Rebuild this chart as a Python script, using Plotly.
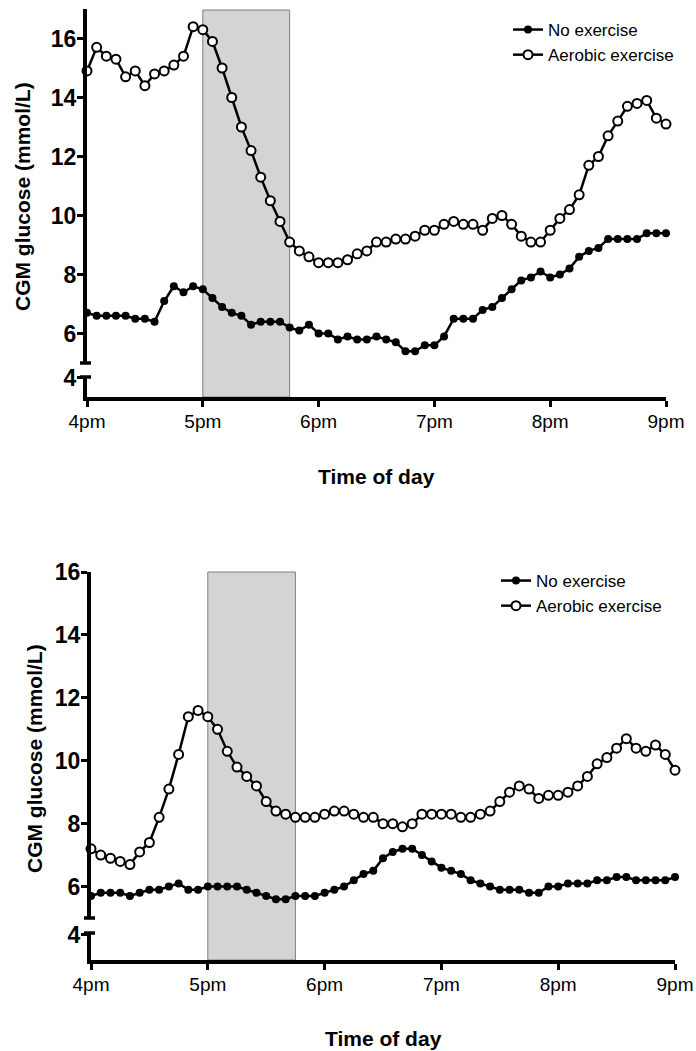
import plotly.graph_objects as go

# ---------------- data ----------------
minutes = [i * 5 for i in range(61)]  # 4pm .. 9pm, 5-min CGM samples
tick_vals = [0, 60, 120, 180, 240, 300]
tick_text = ["4pm", "5pm", "6pm", "7pm", "8pm", "9pm"]
exercise_window = [60, 105]  # 5:00pm - 5:45pm

top_no_exercise = [6.7, 6.6, 6.6, 6.6, 6.6, 6.5, 6.5, 6.4, 7.1, 7.6,
                   7.4, 7.6, 7.5, 7.2, 6.9, 6.7, 6.6, 6.3, 6.4, 6.4,
                   6.4, 6.2, 6.1, 6.3, 6.0, 6.0, 5.8, 5.9, 5.8, 5.8,
                   5.9, 5.8, 5.7, 5.4, 5.4, 5.6, 5.6, 5.9, 6.5, 6.5,
                   6.5, 6.8, 6.9, 7.2, 7.5, 7.8, 7.9, 8.1, 7.9, 8.0,
                   8.2, 8.6, 8.8, 8.9, 9.2, 9.2, 9.2, 9.2, 9.4, 9.4, 9.4]
top_aerobic = [14.9, 15.7, 15.4, 15.3, 14.7, 14.9, 14.4, 14.8, 14.9, 15.1,
               15.4, 16.4, 16.3, 15.9, 15.0, 14.0, 13.0, 12.2, 11.3, 10.5,
               9.8, 9.1, 8.8, 8.6, 8.4, 8.4, 8.4, 8.5, 8.7, 8.8,
               9.1, 9.1, 9.2, 9.2, 9.3, 9.5, 9.5, 9.7, 9.8, 9.7,
               9.7, 9.5, 9.9, 10.0, 9.7, 9.3, 9.1, 9.1, 9.5, 9.9,
               10.2, 10.7, 11.7, 12.0, 12.7, 13.2, 13.7, 13.8, 13.9, 13.3, 13.1]
bot_no_exercise = [5.7, 5.8, 5.8, 5.8, 5.7, 5.8, 5.9, 5.9, 6.0, 6.1,
                   5.9, 5.9, 6.0, 6.0, 6.0, 6.0, 5.9, 5.8, 5.7, 5.6,
                   5.6, 5.7, 5.7, 5.7, 5.8, 5.9, 6.0, 6.2, 6.4, 6.5,
                   6.9, 7.1, 7.2, 7.2, 7.0, 6.8, 6.6, 6.5, 6.4, 6.2,
                   6.1, 6.0, 5.9, 5.9, 5.9, 5.8, 5.8, 6.0, 6.0, 6.1,
                   6.1, 6.1, 6.2, 6.2, 6.3, 6.3, 6.2, 6.2, 6.2, 6.2, 6.3]
bot_aerobic = [7.2, 7.0, 6.9, 6.8, 6.7, 7.1, 7.4, 8.2, 9.1, 10.2,
               11.4, 11.6, 11.4, 11.0, 10.3, 9.8, 9.5, 9.2, 8.7, 8.4,
               8.3, 8.2, 8.2, 8.2, 8.3, 8.4, 8.4, 8.3, 8.2, 8.2,
               8.0, 8.0, 7.9, 8.0, 8.3, 8.3, 8.3, 8.3, 8.2, 8.2,
               8.3, 8.4, 8.7, 9.0, 9.2, 9.1, 8.8, 8.9, 8.9, 9.0,
               9.2, 9.5, 9.9, 10.1, 10.4, 10.7, 10.4, 10.3, 10.5, 10.2, 9.7]
series_names = ["No exercise", "Aerobic exercise"]
y_title = "CGM glucose (mmol/L)"
x_title = "Time of day"

# ---------------- layout helpers ----------------
W, H = 696, 1051
FONT = "Liberation Sans, Arial, sans-serif"


def px(p):
    return p / W


def py(p):
    return 1 - p / H


fig = go.Figure()

panels = [
    dict(x="x", y="y", ylow="y3", leg="legend", no=top_no_exercise, aer=top_aerobic),
    dict(x="x2", y="y2", ylow="y4", leg="legend2", no=bot_no_exercise, aer=bot_aerobic),
]
for p in panels:
    # empty trace so that the lower (broken) axis segment forms a subplot
    fig.add_trace(go.Scatter(x=[None], y=[None], xaxis=p["x"], yaxis=p["ylow"],
                             showlegend=False, hoverinfo="skip", mode="markers"))
    fig.add_trace(go.Scatter(
        x=minutes, y=p["no"], name=series_names[0], mode="lines+markers",
        xaxis=p["x"], yaxis=p["y"], legend=p["leg"],
        line=dict(color="black", width=2.5),
        marker=dict(symbol="circle", size=8, color="black"),
        cliponaxis=False))
    fig.add_trace(go.Scatter(
        x=minutes, y=p["aer"], name=series_names[1], mode="lines+markers",
        xaxis=p["x"], yaxis=p["y"], legend=p["leg"],
        line=dict(color="black", width=2.5),
        marker=dict(symbol="circle", size=9, color="white",
                    line=dict(color="black", width=2)),
        cliponaxis=False))

axis_common = dict(showline=True, linecolor="black", linewidth=4,
                   ticks="outside", tickcolor="black", tickwidth=3,
                   showgrid=False, zeroline=False, automargin=False)
xfont = dict(family=FONT, size=19, color="black")
yfont = dict(family=FONT, size=23, color="black", weight="bold")
ycommon = dict(ticklen=6, ticklabelstandoff=-4, tickfont=yfont, **axis_common)
xcommon = dict(range=[0, 300], tickvals=tick_vals, ticktext=tick_text, ticklen=6,
               ticklabelstandoff=-2, tickfont=xfont, **axis_common)

fig.update_layout(
    template="none",
    width=W, height=H,
    margin=dict(l=0, r=0, t=0, b=0, pad=0),
    paper_bgcolor="white", plot_bgcolor="rgba(0,0,0,0)",
    showlegend=True,
    # ---- top panel ----
    xaxis=dict(domain=[px(87), px(666)], anchor="y3", **xcommon),
    yaxis=dict(domain=[py(363), py(9)], range=[5, 17], anchor="x",
               tickvals=[6, 8, 10, 12, 14, 16], **ycommon),
    yaxis3=dict(domain=[py(397), py(377)], range=[3.36, 4.03], anchor="x",
                tickvals=[4], **ycommon),
    # ---- bottom panel ----
    xaxis2=dict(domain=[px(91), px(675)], anchor="y4", **xcommon),
    yaxis2=dict(domain=[py(918), py(572)], range=[5, 16], anchor="x2",
                tickvals=[6, 8, 10, 12, 14, 16], **ycommon),
    yaxis4=dict(domain=[py(960), py(933)], range=[3.2, 4.06], anchor="x2",
                tickvals=[4], **ycommon),
    legend=dict(x=px(508), y=py(12), xanchor="left", yanchor="top",
                bgcolor="rgba(0,0,0,0)", font=dict(family=FONT, size=17, color="black"),
                tracegroupgap=0, itemsizing="trace"),
    legend2=dict(x=px(496), y=py(563), xanchor="left", yanchor="top",
                 bgcolor="rgba(0,0,0,0)", font=dict(family=FONT, size=17, color="black"),
                 tracegroupgap=0, itemsizing="trace"),
)

shapes = []
# exercise bands
for xr, top, bottom in [("x", py(10), py(397)), ("x2", py(572), py(960))]:
    shapes.append(dict(type="rect", xref=xr, yref="paper",
                       x0=exercise_window[0], x1=exercise_window[1],
                       y0=bottom, y1=top, fillcolor="#d4d4d4",
                       line=dict(color="#7f7f7f", width=1), layer="below"))
# axis-break caps
for xr, yr, yv in [("x", "y", 0), ("x", "y3", 1), ("x2", "y2", 0), ("x2", "y4", 1)]:
    shapes.append(dict(type="line", xref=xr + " domain", yref=yr + " domain",
                       xsizemode="pixel", xanchor=0, x0=-7, x1=4,
                       y0=yv, y1=yv, line=dict(color="black", width=3.5)))
fig.update_layout(shapes=shapes)

annotations = []
for cx, cy in [(22, 197), (34, 759)]:
    annotations.append(dict(text=y_title, x=px(cx), y=py(cy), xref="paper", yref="paper",
                            xanchor="center", yanchor="middle",
                            textangle=-90, showarrow=False,
                            font=dict(family=FONT, size=21, color="black", weight="bold")))
for cx, cy in [(376, 476), (383, 1038)]:
    annotations.append(dict(text=x_title, x=px(cx), y=py(cy), xref="paper", yref="paper",
                            xanchor="center", yanchor="middle", showarrow=False,
                            font=dict(family=FONT, size=21, color="black", weight="bold")))
fig.update_layout(annotations=annotations)

fig.write_html("out.html", config={"displayModeBar": False},
               post_script="document.body.style.margin='0';document.body.style.padding='0';")
